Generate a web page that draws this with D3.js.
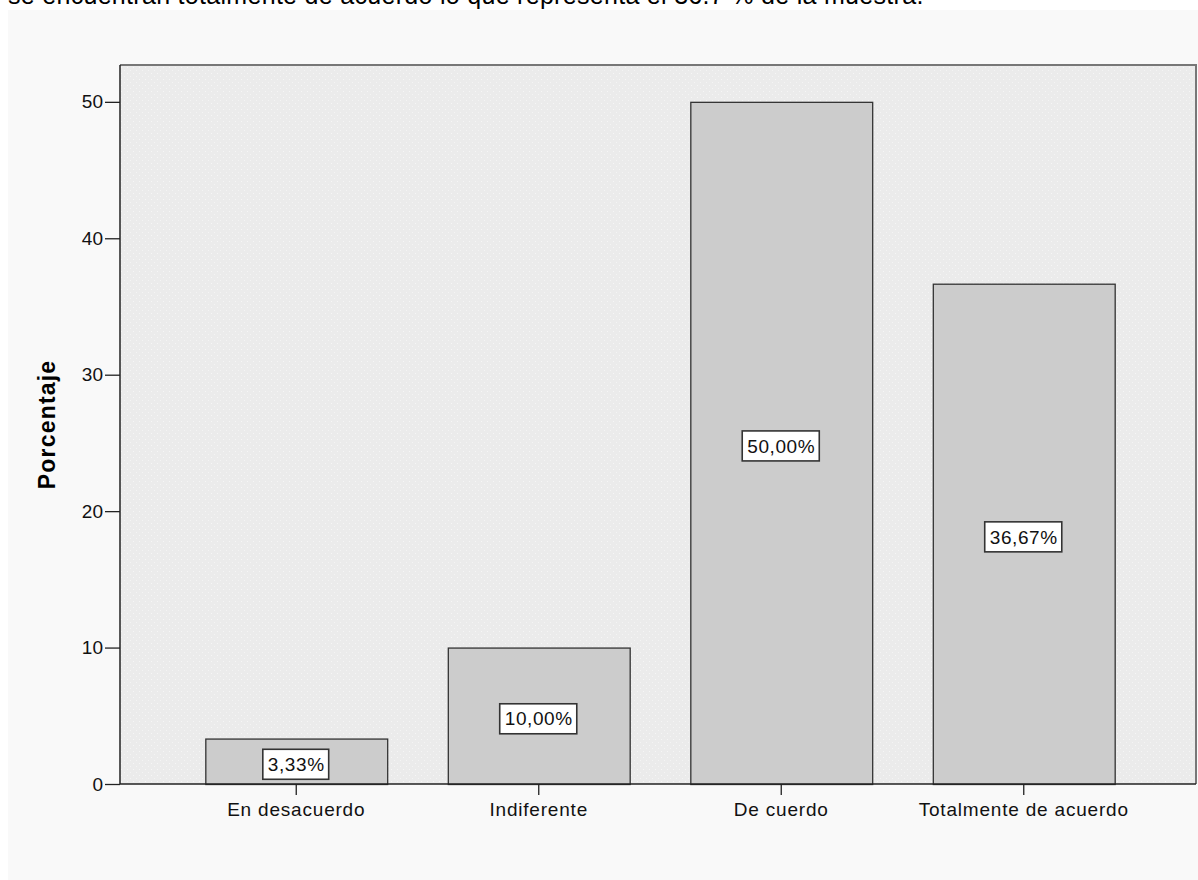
<!DOCTYPE html>
<html>
<head>
<meta charset="utf-8">
<script src="https://cdn.jsdelivr.net/npm/d3@7/dist/d3.min.js"></script>
<style>
  html, body { margin: 0; padding: 0; background: #ffffff; }
  svg { display: block; }
</style>
</head>
<body>
<svg id="chart" width="1198" height="880"></svg>
<script>
// Survey responses (percent of sample)
const categories = ["En desacuerdo", "Indiferente", "De cuerdo", "Totalmente de acuerdo"];
const percentages = [3.33, 10.00, 50.00, 36.67];
const yTicks = [0, 10, 20, 30, 40, 50];
const yTitle = "Porcentaje";
const introText = "se encuentran totalmente de acuerdo lo que representa el 36.7 % de la muestra.";

const svg = d3.select("#chart");
const font = "Arial, 'Liberation Sans', sans-serif";

// Tail of the preceding paragraph line
svg.append("text")
  .attr("x", 8).attr("y", 4)
  .attr("font-family", font).attr("font-size", 25)
  .attr("letter-spacing", 0.3)
  .attr("fill", "#000")
  .text(introText);

// Outer chart panel
svg.append("rect")
  .attr("x", 8).attr("y", 10).attr("width", 1190).attr("height", 870)
  .attr("fill", "#f9f9f9");

// Stippled plot background
const defs = svg.append("defs");
const pat = defs.append("pattern")
  .attr("id", "stipple").attr("width", 6).attr("height", 6)
  .attr("patternUnits", "userSpaceOnUse");
pat.append("rect").attr("width", 6).attr("height", 6).attr("fill", "#ebebeb");
pat.append("rect").attr("x", 1).attr("y", 1).attr("width", 1).attr("height", 1).attr("fill", "#f6f6f6");
pat.append("rect").attr("x", 4).attr("y", 4).attr("width", 1).attr("height", 1).attr("fill", "#f4f4f4");

const plot = { left: 120, right: 1196, top: 65, bottom: 784 };

const x = d3.scaleBand()
  .domain(categories)
  .range([175, 1145])
  .paddingInner(0.25)
  .paddingOuter(0.125);

const y = d3.scaleLinear()
  .domain([0, 52.7])
  .range([plot.bottom, plot.top]);

svg.append("rect")
  .attr("x", plot.left).attr("y", plot.top)
  .attr("width", plot.right - plot.left).attr("height", plot.bottom - plot.top)
  .attr("fill", "url(#stipple)");

// Top and right frame
svg.append("path")
  .attr("d", `M${plot.left},${plot.top}H${plot.right}V${plot.bottom}`)
  .attr("fill", "none").attr("stroke", "#777").attr("stroke-width", 2);

// Bars
svg.append("g").selectAll("rect")
  .data(categories)
  .join("rect")
  .attr("x", d => x(d) + 0.5)
  .attr("y", (d, i) => y(percentages[i]) + 0.5)
  .attr("width", x.bandwidth())
  .attr("height", (d, i) => y(0) - y(percentages[i]))
  .attr("fill", "#cccccc")
  .attr("stroke", "#333")
  .attr("stroke-width", 1.3);

// Value labels in boxes
const fmt = v => v.toFixed(2).replace(".", ",") + "%";
const labels = svg.append("g").selectAll("g")
  .data(categories)
  .join("g")
  .attr("transform", (d, i) => `translate(${x(d) + x.bandwidth() / 2},${(y(percentages[i]) + y(0)) / 2 + 3})`);
labels.each(function(d, i) {
  const g = d3.select(this);
  const t = g.append("text")
    .attr("text-anchor", "middle")
    .attr("dy", "0.35em")
    .attr("font-family", font).attr("font-size", 19)
    .attr("letter-spacing", 0.6)
    .attr("fill", "#111")
    .text(fmt(percentages[i]));
  const w = t.node().getComputedTextLength();
  g.insert("rect", "text")
    .attr("x", -w / 2 - 5).attr("y", -15)
    .attr("width", w + 9).attr("height", 30)
    .attr("fill", "#fff").attr("stroke", "#333").attr("stroke-width", 1.6);
});

// Y axis
const yAxis = svg.append("g")
  .attr("transform", `translate(${plot.left},0)`)
  .call(d3.axisLeft(y).tickValues(yTicks).tickSize(15).tickPadding(2).tickSizeOuter(0));
yAxis.select(".domain").attr("stroke", "#222").attr("stroke-width", 1.5)
  .attr("d", `M0,${plot.top}V${plot.bottom}`);
yAxis.selectAll(".tick line").attr("stroke", "#222").attr("stroke-width", 1.3);
yAxis.selectAll(".tick text")
  .attr("font-family", font).attr("font-size", 19).attr("fill", "#111");

// X axis
const xAxis = svg.append("g")
  .attr("transform", `translate(0,${plot.bottom})`)
  .call(d3.axisBottom(x).tickSize(11).tickPadding(8).tickSizeOuter(0));
xAxis.select(".domain").attr("stroke", "#222").attr("stroke-width", 1.5)
  .attr("d", `M${plot.left},0H${plot.right}`);
xAxis.selectAll(".tick line").attr("stroke", "#222").attr("stroke-width", 1.3);
xAxis.selectAll(".tick text")
  .attr("font-family", font).attr("font-size", 19).attr("letter-spacing", 0.8).attr("fill", "#111");

// Y axis title
svg.append("text")
  .attr("transform", `translate(55,${(plot.top + plot.bottom) / 2}) rotate(-90)`)
  .attr("text-anchor", "middle")
  .attr("font-family", font).attr("font-size", 23).attr("font-weight", "bold")
  .attr("letter-spacing", 1.2)
  .attr("fill", "#000")
  .text(yTitle);
</script>
</body>
</html>
